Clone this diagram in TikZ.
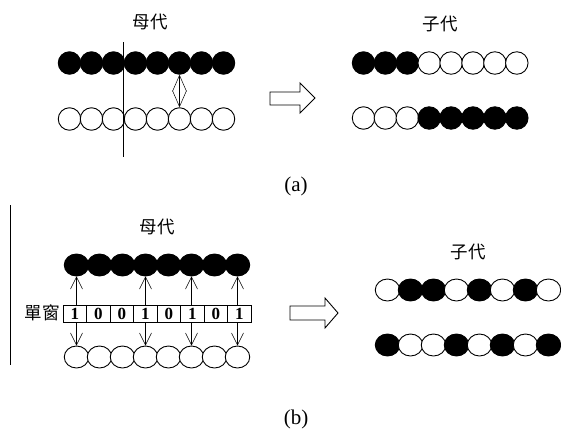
\documentclass[tikz,border=0pt]{standalone}
\usepackage{fontspec}
\setmainfont{Liberation Serif}
\newfontfamily\cjk{Noto Sans CJK TC}
\usetikzlibrary{arrows.meta,shapes.geometric}
\begin{document}
\begin{tikzpicture}[x=1pt,y=-1pt,
  bead/.style={circle,draw,line width=0.9pt,minimum size=22.5pt,inner sep=0pt},
  oval/.style={ellipse,draw,line width=0.9pt,minimum width=24.5pt,minimum height=22pt,inner sep=0pt},
  blk/.style={fill=black},
  wht/.style={fill=white},
  cell/.style={rectangle,draw,line width=0.9pt,minimum width=23.5pt,minimum height=17pt,inner sep=0pt,font=\bfseries\fontsize{17}{17}\selectfont},
  cjklabel/.style={font=\cjk\fontsize{17.5}{17.5}\selectfont},
  caption/.style={font=\fontsize{21}{21}\selectfont},
  vee/.style={line width=0.5pt,{Straight Barb[length=16pt,width=14pt,line width=0.5pt]}-{Straight Barb[length=16pt,width=14pt,line width=0.5pt]}},
  upvee/.style={line width=0.5pt,-{Straight Barb[length=12pt,width=12pt,line width=0.5pt]}},
  hollow/.style={draw,line width=0.9pt,fill=white}]
\useasboundingbox (0,0) rectangle (561,434);

% ---------- (a) one-point crossover ----------
\node[cjklabel] (pa) at (150,22) {母代};
\foreach \i in {0,...,7}{
  \node[bead,blk] (a\i) at ({69.5+22*\i},63) {};
  \node[bead,wht] (b\i) at ({69.5+22*\i},119) {};
}
\draw[line width=1pt] (123,42) -- (123,157);
\draw[vee] (a5.south) -- (b5.north);

% block arrow
\draw[hollow] (270,92) -- (300,92) -- (300,83) -- (315,98) -- (300,113) -- (300,105) -- (270,105) -- cycle;

\node[cjklabel] (ca) at (440,24) {子代};
\foreach \i/\c in {0/blk,1/blk,2/blk,3/wht,4/wht,5/wht,6/wht,7/wht}{
  \node[bead,\c] (c\i) at ({363.5+21.9*\i},63) {};
}
\foreach \i/\c in {0/wht,1/wht,2/wht,3/blk,4/blk,5/blk,6/blk,7/blk}{
  \node[bead,\c] (d\i) at ({363.5+21.9*\i},118) {};
}
\node[caption] (capa) at (296,186) {(a)};

% ---------- (b) uniform crossover with mask ----------
\draw[line width=1pt] (10,205) -- (10,365);
\node[cjklabel] (pb) at (157,227) {母代};
\foreach \i in {0,...,7}{
  \node[oval,blk] (e\i) at ({76.5+23*\i},265) {};
  \node[oval,wht] (f\i) at ({76.5+23*\i},357) {};
}
\node[cjklabel] (mask) at (42,313) {單窗};
\foreach \i/\v in {0/1,1/0,2/0,3/1,4/0,5/1,6/0,7/1}{
  \node[cell] (m\i) at ({74.75+23.5*\i},313.5) {\v};
}
\foreach \i in {0,3,5,7}{
  \draw[upvee] (m\i.north -| e\i.south) -- (e\i.south);
  \draw[upvee] (m\i.south -| f\i.north) -- (f\i.north);
}

% block arrow
\draw[hollow] (290,306) -- (325,306) -- (325,298) -- (338,313) -- (325,328) -- (325,320) -- (290,320) -- cycle;

\node[cjklabel] (cb) at (468,252) {子代};
\foreach \i/\c in {0/wht,1/blk,2/blk,3/wht,4/blk,5/wht,6/blk,7/wht}{
  \node[oval,\c] (g\i) at ({387.5+23*\i},290) {};
}
\foreach \i/\c in {0/blk,1/wht,2/wht,3/blk,4/wht,5/blk,6/wht,7/blk}{
  \node[oval,\c] (h\i) at ({387.5+23*\i},345) {};
}
\node[caption] (capb) at (296,419) {(b)};
\end{tikzpicture}
\end{document}
